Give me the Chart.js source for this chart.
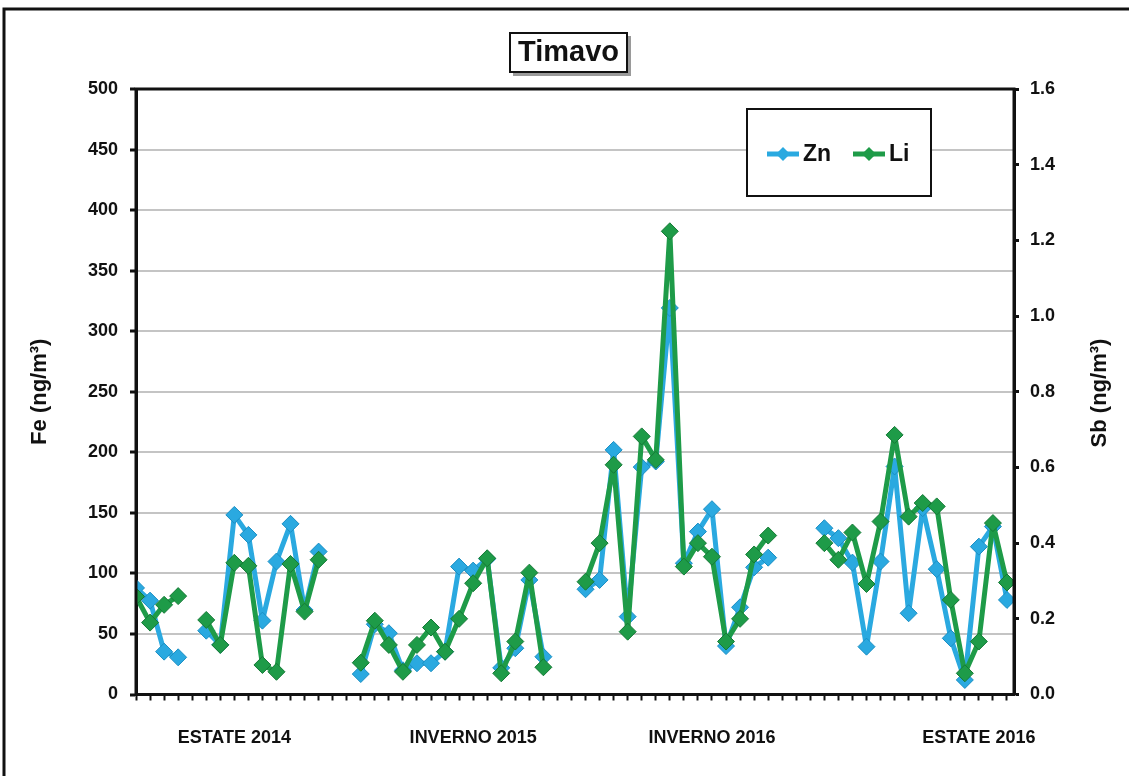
<!DOCTYPE html>
<html>
<head>
<meta charset="utf-8">
<script src="https://cdn.jsdelivr.net/npm/chart.js@4/dist/chart.umd.min.js"></script>
<style>
  html, body { margin: 0; padding: 0; background: #fff; overflow: hidden; }
  #wrap { width: 1129px; height: 776px; position: relative; }
</style>
</head>
<body>
<div id="wrap"><canvas id="timavo"></canvas></div>
<script>
// Zn on the Fe axis (ng/m3), Li on the Sb axis (ng/m3); null = no sample
const zn = [
  88, 77.5, 35.4, 30.7, null,
  52.7, 41, 148.3, 131.8, 61, 109.8, 140.9, 69.8, 118,
  null, null,
  16.9, 58, 50.6, 20, 25.8, 25.8, 35.4, 105.6, 102.3, 112, 22, 38.2, 94.6, 31.2,
  null, null,
  86.9, 94.6, 202, 64.3, 187.8, 192.4, 319.2, 108.4, 134.5, 153, 40, 72, 105, 113,
  null, null, null,
  137.3, 129.1, 108.9, 39.5, 109.8, 188.3, 67.1, 153.9, 103.5, 46.4, 12, 122.1, 138.7, 78.1
];

const li = [
  0.259, 0.19, 0.237, 0.26, null,
  0.197, 0.131, 0.348, 0.34, 0.078, 0.06, 0.345, 0.219, 0.356,
  null, null,
  0.084, 0.195, 0.131, 0.06, 0.131, 0.177, 0.113, 0.2, 0.294, 0.36, 0.056, 0.14, 0.322, 0.072,
  null, null,
  0.298, 0.4, 0.607, 0.166, 0.682, 0.62, 1.224, 0.338, 0.4, 0.364, 0.14, 0.2, 0.37, 0.42,
  null, null, null,
  0.4, 0.356, 0.428, 0.292, 0.457, 0.686, 0.47, 0.506, 0.497, 0.25, 0.056, 0.14, 0.453, 0.296
];

const periods = ['ESTATE 2014', 'INVERNO 2015', 'INVERNO 2016', 'ESTATE 2016'];
const periodSample = [7, 24, 41, 60];

const FONT = "'Liberation Sans', Arial, sans-serif";

// one label per sample, blank except where a period name goes
const sampleLabels = zn.map(() => '');
periodSample.forEach((s, k) => { sampleLabels[s] = periods[k]; });

const toPoints = arr => arr.map((v, i) => ({ x: i, y: v }));

// frame, title box, plot border, legend box and right axis title
const decor = {
  id: 'decor',
  beforeDraw(chart) {
    const ctx = chart.ctx;
    ctx.save();
    ctx.fillStyle = '#fff';
    ctx.fillRect(0, 0, chart.width, chart.height);
    ctx.strokeStyle = '#111';
    ctx.lineWidth = 3;
    ctx.beginPath();
    ctx.moveTo(4, chart.height);
    ctx.lineTo(4, 9);
    ctx.lineTo(chart.width, 9);
    ctx.stroke();
    ctx.restore();
  },
  afterDatasetsDraw(chart) {
    const ctx = chart.ctx;
    const a = chart.chartArea;
    ctx.save();

    // plot border
    ctx.strokeStyle = '#111';
    ctx.lineWidth = 3;
    ctx.strokeRect(a.left, a.top, a.right - a.left, a.bottom - a.top);

    // title box with drop shadow
    ctx.fillStyle = '#9a9a9a';
    ctx.fillRect(513, 36, 118, 40);
    ctx.fillStyle = '#fff';
    ctx.fillRect(510, 33, 117, 39);
    ctx.lineWidth = 2;
    ctx.strokeRect(510, 33, 117, 39);
    ctx.fillStyle = '#111';
    ctx.font = 'bold 29px ' + FONT;
    ctx.textAlign = 'center';
    ctx.textBaseline = 'middle';
    ctx.fillText('Timavo', 568.5, 53);

    // legend
    ctx.fillStyle = '#fff';
    ctx.fillRect(747, 109, 184, 87);
    ctx.strokeStyle = '#111';
    ctx.lineWidth = 2;
    ctx.strokeRect(747, 109, 184, 87);
    const starts = [767, 853];
    chart.data.datasets.forEach((ds, k) => {
      const x0 = starts[k];
      const y0 = 154;
      ctx.strokeStyle = ds.borderColor;
      ctx.lineWidth = 5;
      ctx.beginPath();
      ctx.moveTo(x0, y0);
      ctx.lineTo(x0 + 32, y0);
      ctx.stroke();
      ctx.fillStyle = ds.pointBackgroundColor;
      ctx.beginPath();
      ctx.moveTo(x0 + 16, y0 - 7);
      ctx.lineTo(x0 + 23, y0);
      ctx.lineTo(x0 + 16, y0 + 7);
      ctx.lineTo(x0 + 9, y0);
      ctx.closePath();
      ctx.fill();
      ctx.fillStyle = '#111';
      ctx.font = 'bold 23px ' + FONT;
      ctx.textAlign = 'left';
      ctx.fillText(ds.label, x0 + 36, y0 + 1);
    });

    // secondary axis title, read bottom to top
    ctx.translate(1100, 393);
    ctx.rotate(-Math.PI / 2);
    ctx.font = 'bold 22px ' + FONT;
    ctx.textAlign = 'center';
    ctx.fillText('Sb (ng/m³)', 0, 0);
    ctx.restore();
  }
};

new Chart(document.getElementById('timavo'), {
  type: 'line',
  data: {
    datasets: [{
      label: 'Zn',
      data: toPoints(zn),
      yAxisID: 'y',
      order: 2,
      borderColor: '#2aa9e0',
      backgroundColor: '#2aa9e0',
      pointBackgroundColor: '#2aa9e0',
      pointBorderColor: '#1b8fc4',
      borderWidth: 5,
      borderJoinStyle: 'round',
      borderCapStyle: 'round',
      pointStyle: 'rectRot',
      pointRadius: 8.5,
      pointBorderWidth: 1,
      spanGaps: false
    }, {
      label: 'Li',
      data: toPoints(li),
      yAxisID: 'y1',
      order: 1,
      borderColor: '#1e9b48',
      backgroundColor: '#1e9b48',
      pointBackgroundColor: '#1e9b48',
      pointBorderColor: '#157a36',
      borderWidth: 5,
      borderJoinStyle: 'round',
      borderCapStyle: 'round',
      pointStyle: 'rectRot',
      pointRadius: 8.5,
      pointBorderWidth: 1,
      spanGaps: false
    }]
  },
  options: {
    responsive: true,
    maintainAspectRatio: false,
    animation: false,
    layout: { padding: { top: 89, left: 0, right: 0, bottom: 0 } },
    scales: {
      x: {
        type: 'linear',
        min: 0,
        max: 62.5,
        afterFit(s) { s.height = 81.5; },
        border: { color: '#111', width: 3 },
        grid: { drawOnChartArea: false, drawTicks: true, tickLength: 6, tickColor: '#111', tickWidth: 2 },
        ticks: {
          stepSize: 1,
          includeBounds: false,
          autoSkip: false,
          maxRotation: 0,
          minRotation: 0,
          padding: 27,
          color: '#111',
          font: { family: FONT, size: 18, weight: 'bold' },
          callback: v => sampleLabels[v] || ''
        }
      },
      y: {
        position: 'left',
        min: 0,
        max: 500,
        afterFit(s) { s.width = 136; },
        border: { color: '#111', width: 3 },
        grid: { color: '#c4c4c4', lineWidth: 2, tickColor: '#111', tickLength: 6, tickWidth: 3 },
        ticks: {
          stepSize: 50,
          padding: 12,
          color: '#111',
          font: { family: FONT, size: 18, weight: 'bold' }
        },
        title: {
          display: true,
          text: 'Fe (ng/m³)',
          color: '#111',
          padding: { top: 27, bottom: 0 },
          font: { family: FONT, size: 22, weight: 'bold' }
        }
      },
      y1: {
        position: 'right',
        min: 0,
        max: 1.6,
        afterFit(s) { s.width = 115; },
        border: { color: '#111', width: 3 },
        grid: { drawOnChartArea: false, tickColor: '#111', tickLength: 5, tickWidth: 3 },
        ticks: {
          stepSize: 0.2,
          padding: 11,
          color: '#111',
          font: { family: FONT, size: 18, weight: 'bold' },
          callback: v => v.toFixed(1)
        }
      }
    },
    plugins: {
      legend: { display: false },
      tooltip: { enabled: false }
    }
  },
  plugins: [decor]
});
</script>
</body>
</html>
